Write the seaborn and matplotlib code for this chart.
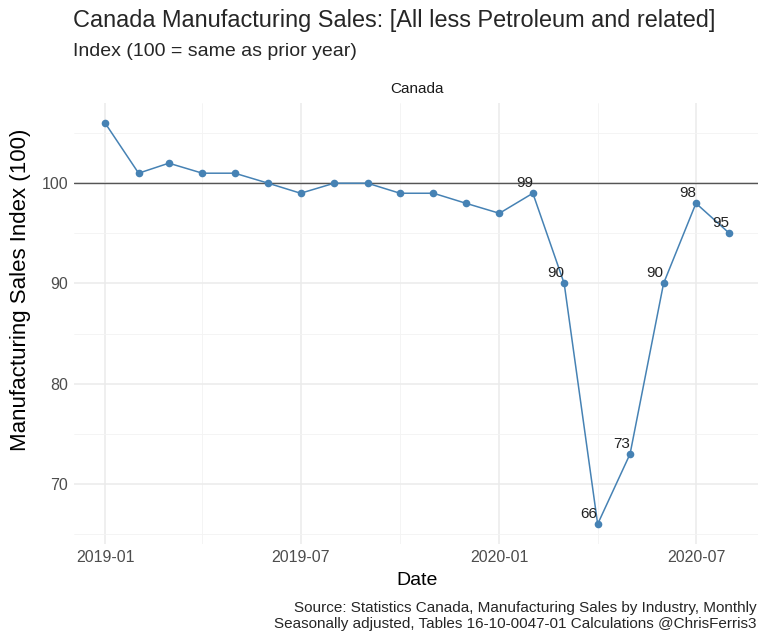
import matplotlib
matplotlib.use("Agg")
import matplotlib.pyplot as plt
import matplotlib.dates as mdates
from matplotlib.ticker import MultipleLocator
import seaborn as sns
import pandas as pd

# Datos
months = ['2019-01', '2019-02', '2019-03', '2019-04', '2019-05', '2019-06',
          '2019-07', '2019-08', '2019-09', '2019-10', '2019-11', '2019-12',
          '2020-01', '2020-02', '2020-03', '2020-04', '2020-05', '2020-06',
          '2020-07', '2020-08']
index_values = [106, 101, 102, 101, 101, 100, 99, 100, 100, 99, 99, 98,
                97, 99, 90, 66, 73, 90, 98, 95]
label_from = '2020-02'
x_ticks = ['2019-01', '2019-07', '2020-01', '2020-07']
x_minor = ['2019-04', '2019-10', '2020-04']

df = pd.DataFrame({'date': pd.to_datetime(months), 'value': index_values})

sns.set_style('white')
plt.rcParams['font.family'] = ['Liberation Sans', 'DejaVu Sans']

fig = plt.figure(figsize=(7.58, 6.32), dpi=100)
ax = fig.add_axes([0.0975, 0.139, 0.906, 0.698])

BLUE = '#4682B4'
GRID = '#ebebeb'

sns.lineplot(data=df, x='date', y='value', ax=ax, color=BLUE, linewidth=1.1,
             marker='o', markersize=5.5, markeredgewidth=0, zorder=3)
ax.axhline(100, color='#555555', linewidth=1.0, zorder=2)

# etiquetas desde 2020-02
for d, v in zip(df['date'], df['value']):
    if d >= pd.Timestamp(label_from):
        ax.text(d, v + 0.3, str(v), ha='right', va='bottom', fontsize=11,
                color='#222222', zorder=4)

# límites con expansión del 5%
span = df['date'].max() - df['date'].min()
ax.set_xlim(df['date'].min() - span * 0.05, df['date'].max() + span * 0.05)
ax.set_ylim(64, 108)

ax.set_xticks(pd.to_datetime(x_ticks))
ax.set_xticks(pd.to_datetime(x_minor), minor=True)
ax.xaxis.set_major_formatter(mdates.DateFormatter('%Y-%m'))
ax.yaxis.set_major_locator(MultipleLocator(10))
ax.yaxis.set_minor_locator(MultipleLocator(5))

ax.grid(True, which='major', color=GRID, linewidth=1.1, zorder=0)
ax.grid(True, which='minor', color='#f3f3f3', linewidth=0.6, zorder=0)
ax.set_axisbelow(True)
for s in ax.spines.values():
    s.set_visible(False)
ax.tick_params(axis='both', which='both', length=0, labelsize=11.5,
               labelcolor='#4d4d4d', pad=4)

ax.set_xlabel('Date', fontsize=14, color='black')
ax.set_ylabel('Manufacturing Sales Index (100)', fontsize=16, color='black')
ax.xaxis.set_label_coords(0.5, -0.064)
ax.yaxis.set_label_coords(-0.062, 0.576)

# título, subtítulo, faceta y fuente
fig.text(0.096, 0.967, 'Canada Manufacturing Sales: [All less Petroleum and related]',
         fontsize=16.9, ha='left', va='center')
fig.text(0.096, 0.918, 'Index (100 = same as prior year)', fontsize=14,
         ha='left', va='center')
ax.set_title('Canada', fontsize=11, color='#1a1a1a', pad=7)
fig.text(0.998, 0.025,
         'Source: Statistics Canada, Manufacturing Sales by Industry, Monthly\n'
         'Seasonally adjusted, Tables 16-10-0047-01 Calculations @ChrisFerris3',
         fontsize=11, ha='right', va='center', linespacing=1.15)

fig.savefig('out.png', dpi=100)
